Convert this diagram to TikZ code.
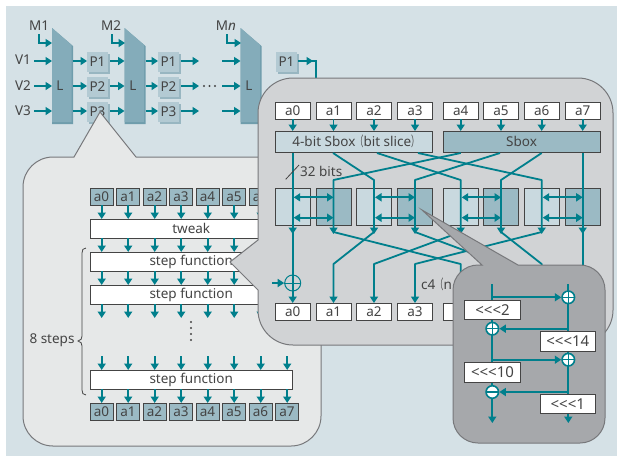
\documentclass[tikz,border=0pt]{standalone}
\usepackage{fontspec}
\usepackage{graphicx}
\setmainfont{Noto Sans}
\newfontfamily\cjk{Noto Sans CJK JP}
\usetikzlibrary{arrows.meta,decorations.pathreplacing}
\definecolor{teal1}{HTML}{007F8C}
\definecolor{bgblue}{HTML}{D5E1E6}
\definecolor{txt}{HTML}{444444}
\definecolor{lt}{HTML}{C9D9DF}
\definecolor{md}{HTML}{9BBAC4}
\definecolor{Lfill}{HTML}{84ACBA}
\definecolor{Lsh}{HTML}{6F9DAC}
\definecolor{Pf}{HTML}{B3CAD3}
\definecolor{Psh}{HTML}{98B6C1}
\definecolor{b1}{HTML}{E6E8E8}
\definecolor{b2}{HTML}{D1D3D5}
\definecolor{b3}{HTML}{A6A8AB}
\definecolor{bord}{HTML}{77787B}
\tikzset{
 wire/.style={teal1,line width=1.8pt},
 arr/.style={wire,-{Triangle[length=6.5pt,width=8pt]}},
 darr/.style={wire,{Triangle[length=6.5pt,width=8pt]}-{Triangle[length=6.5pt,width=8pt]}},
 lbl/.style={text=txt,font=\fontsize{13.5}{13.5}\selectfont,inner sep=0pt},
 box/.style={draw=txt,line width=1pt,inner sep=0pt,outer sep=0pt,anchor=north west,text=txt,font=\fontsize{13.5}{13.5}\selectfont,align=center},
 bub/.style={draw=bord,line width=1pt},
 pbox/.style={anchor=north west,fill=Pf,minimum width=21pt,minimum height=20pt,inner sep=0pt,text=txt,font=\fontsize{13.5}{13.5}\selectfont,outer sep=0pt},
 smallbox/.style={box,fill=md,minimum width=23pt,minimum height=17pt},
 wbox/.style={box,fill=white,minimum width=35pt,minimum height=17pt},
 wide/.style={box,fill=white,minimum width=202.5pt,minimum height=19pt},
 rot/.style={box,fill=white,minimum width=55.6pt,minimum height=19.7pt,font=\fontsize{15}{15}\selectfont},
 xr/.style={circle,fill=white,draw=teal1,line width=1.6pt,minimum size=12.5pt,inner sep=0pt},
}
\newcommand{\plusx}[2]{\draw[teal1,line width=1.4pt] (#1,#2-6)--(#1,#2+6) (#1-6,#2)--(#1+6,#2);}
\newcommand{\fwl}{\scalebox{0.6}[1]{\cjk （}}
\newcommand{\fwr}{\scalebox{0.6}[1]{\cjk ）}}
\begin{document}
\begin{tikzpicture}[x=1pt,y=-1pt]
\useasboundingbox (0,0) rectangle (617,456);
\fill[bgblue] (6,6) rectangle (617,456);
% L blocks
\foreach \n/\x/\dy in {A/52/0,B/124.5/0,C/240.5/0}{
 \fill[Lsh] (\x,28) -- (\x+21,46) -- (\x+21,124) -- (\x,124) -- cycle;
 \fill[Lfill] (\x,28) -- (\x+19.5,45) -- (\x+19.5,122) -- (\x,122) -- cycle;
}
\node[lbl] (la) at (60,86) {L};
\node[lbl] (lb) at (133,86) {L};
\node[lbl] (lc) at (249,86) {L};
\foreach \n/\x/\y/\t in {p11/87/52/P1,p12/87/77/P2,p13/87/102/P3,p21/158/52/P1,p22/158/77/P2,p23/158/102/P3,p31/276/52/P1}{
 \fill[Psh] (\x+2,\y+2) rectangle (\x+23,\y+22);
 \node[pbox] (\n) at (\x,\y) {\t};
}
\node[lbl] (m1) at (39,26) {M1};
\node[lbl] (m2) at (111,26) {M2};
\node[lbl] (mn) at (226,26) {M\textit{n}};
\node[lbl] (v1) at (23,60) {V1};
\node[lbl] (v2) at (23,86) {V2};
\node[lbl] (v3) at (23,111) {V3};
\coordinate (l1a) at (52,61); \coordinate (l1b) at (52,86); \coordinate (l1c) at (52,111);
\draw[arr] (v1.east)++(3,1) -- (l1a);
\draw[arr] (v2.east)++(3,0) -- (l1b);
\draw[arr] (v3.east)++(3,0) -- (l1c);
\foreach \y in {61,86,111}{
 \draw[arr] (72.5,\y) -- (87,\y);
 \draw[arr] (110,\y) -- (124.5,\y);
 \draw[arr] (145.5,\y) -- (158,\y);
 \draw[arr] (181,\y) -- (199,\y);
 \draw[arr] (222,\y) -- (240.5,\y);
}
\foreach \x in {204,209.5,215}{\fill[txt] (\x,86) circle (1.2);}
\draw[arr] (39,34) -- (39,43) -- (52,43);
\draw[arr] (112,34) -- (112,43) -- (125,43);
\draw[arr] (227,34) -- (227,43) -- (241,43);
\draw[arr] (298,61) -- (313,61);
\draw[wire] (312,61) -- (316,61) -- (316,90);
% bubble 1
\draw[bub,fill=b1] (53,157) -- (74,157) -- (100,112) -- (136,157) -- (291,157) arc (-90:0:30) -- (321,416) arc (0:90:30) -- (53,446) arc (90:180:30) -- (23,187) arc (180:270:30) -- cycle;
\foreach \i in {0,...,6}{
 \pgfmathsetmacro{\xx}{90+26.5*\i}
 \node[smallbox] (t\i) at (\xx,188) {a\i};
}
\foreach \i in {0,...,7}{
 \pgfmathsetmacro{\xx}{90+26.5*\i}
 \node[smallbox] (u\i) at (\xx,403) {a\i};
}
\node[wide] (tw) at (90,219) {tweak};
\node[wide] (s1) at (90,252) {step function};
\node[wide] (s2) at (90,285) {step function};
\node[wide] (s3) at (90,370) {step function};
\foreach \i in {0,...,7}{
 \pgfmathsetmacro{\xx}{101.7+26.5*\i}
 \draw[arr] (\xx,205) -- (\xx,219);
 \draw[arr] (\xx,238) -- (\xx,252);
 \draw[arr] (\xx,271) -- (\xx,285);
 \draw[arr] (\xx,304) -- (\xx,318);
 \draw[arr] (\xx,356) -- (\xx,370);
 \draw[arr] (\xx,389) -- (\xx,403);
}
\foreach \y in {322,328,334,340}{\fill[txt] (191,\y) circle (1.2);}
\draw[txt,line width=0.8pt] (86,248) .. controls (83,248) and (82,250) .. (82,253) -- (82,336) .. controls (82,339) and (81,340) .. (78,341) .. controls (81,342) and (82,343) .. (82,346) -- (82,390) .. controls (82,393) and (83,395) .. (86,395);
\node[lbl] (st) at (52,340) {8 steps};
% bubble 2
\draw[bub,fill=b2] (293,78) -- (578,78) arc (-90:0:35) -- (613,310) arc (0:90:35) -- (293,345) arc (90:180:35) -- (258,290) -- (230,262) -- (258,240) -- (258,113) arc (180:270:35) -- cycle;
\foreach \i/\c in {0/292.7,1/333.5,2/374,3/415,4/460.7,5/501,6/541.7,7/582.7}{
 \node[wbox,anchor=north] (a\i) at (\c,102) {a\i};
 \draw[arr] (\c,119) -- (\c,131);
}
\foreach \i/\c in {0/292.7,1/333.5,2/374,3/415}{
 \node[wbox,anchor=north] (b\i) at (\c,303) {a\i};
}
\node[wbox,anchor=north] (b4) at (460.7,303) {};
\node[box,fill=lt,minimum width=157.7pt,minimum height=21.7pt] (sb1) at (275,131) {\hspace{4pt}4-bit Sbox\fwl bit slice\fwr};
\node[box,fill=md,minimum width=157pt,minimum height=21.7pt] (sb2) at (443,131) {Sbox};
\foreach \i/\c/\f in {0/292.7/lt,1/333.5/md,2/374/lt,3/415/md,4/460.7/lt,5/501/md,6/541.7/lt,7/582.7/md}{
 \node[box,fill=\f,minimum width=35pt,minimum height=37pt,anchor=north] (m\i) at (\c,188.3) {};
}
\draw[arr] (292.7,153) -- (292.7,234);
\draw[arr] (292.7,230) -- (292.7,303);
\draw[arr] (582.7,153) -- (582.7,234);
\draw[wire] (582.7,230) -- (582.7,270);
\foreach \xa/\xb in {333/374,377/460.7,418/541.7,460.7/333.5,500/415,541.7/501}{
 \draw[arr,line join=round] (\xa,153) -- (\xb,180) -- (\xb,234);
}
\foreach \xa/\xb in {374/333.5,460.7/374,541.7/415,333.5/460.7,415/501,501/541.7}{
 \draw[arr,line join=round] (\xa,232) -- (\xb,264) -- (\xb,303);
}
\foreach \xa/\xb in {292.7/333.5,374/415,460.7/501,541.7/582.7}{
 \draw[darr] (\xa+1,197.3) -- (\xb,197.3);
 \draw[darr] (\xa+1,217.7) -- (\xb,217.7);
}
\coordinate (sl1) at (285.7,179.3); \coordinate (sl2) at (299,165);
\draw[txt,line width=0.8pt] (sl1) -- (sl2);
\node[lbl,anchor=west] (bits) at (300,171) {32 bits};
\node[circle,draw=teal1,line width=1pt,minimum size=16pt,inner sep=0pt] (xo) at (292.7,283) {};
\draw[teal1,line width=1pt] (xo.west) -- (xo.east);
\coordinate (xin) at (272,283);
\draw[arr] (xin) -- (xo.west);
\node[lbl,anchor=west] (c4) at (421,284) {c4\fwl n};
% bubble 3
\draw[bub,fill=b3] (478,265) -- (482,265) -- (422,210) -- (518,265) -- (580,265) arc (-90:0:25) -- (605,418) arc (0:90:25) -- (478,443) arc (90:180:25) -- (453,290) arc (180:270:25) -- cycle;
\coordinate (lt) at (492.3,284.3);
\coordinate (rt) at (568.3,284.3);
\draw[arr] (lt) -- (492.3,423);
\draw[arr] (rt) -- (568.3,423);
\node[xr] (x1) at (568.3,297.3) {};
\node[xr] (x2) at (492.3,328.7) {};
\node[xr] (x3) at (568.3,359.7) {};
\node[xr] (x4) at (492.3,392) {};
\draw[arr] (492.3,297.3) -- (x1.west);
\draw[arr] (568.3,328.7) -- (x2.east);
\draw[arr] (492.3,359.7) -- (x3.west);
\draw[arr] (568.3,392) -- (x4.east);
\plusx{568.3}{297.3}\plusx{492.3}{328.7}\plusx{568.3}{359.7}
\draw[teal1,line width=1.6pt] (486.3,392)--(498.3,392);
\node[rot] (r1) at (464.7,300) {<{}<{}<2};
\node[rot] (r2) at (540,331.3) {<{}<{}<14};
\node[rot] (r3) at (464.7,362.7) {<{}<{}<10};
\node[rot] (r4) at (540,394) {<{}<{}<1};
\end{tikzpicture}
\end{document}
